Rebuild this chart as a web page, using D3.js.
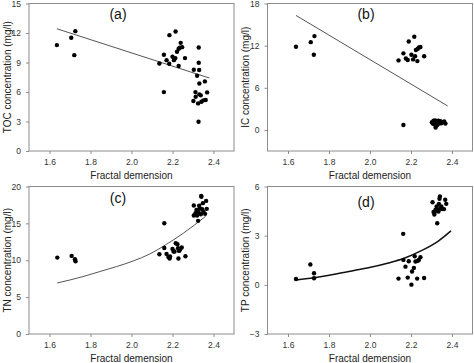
<!DOCTYPE html>
<html>
<head>
<meta charset="utf-8">
<script src="https://cdn.jsdelivr.net/npm/d3@7"></script>
<style>
  body { margin: 0; background: #fff; }
  svg { font-family: "Liberation Sans", Arial, sans-serif; }
</style>
</head>
<body>
<svg id="chart"></svg>
<script>
const width = 474;
const height = 363;

// fractal dimension / concentration pairs
const tocPoints = [
  [1.636, 10.77], [1.706, 11.51], [1.726, 12.19], [1.721, 9.75],
  [2.136, 8.9], [2.158, 9.79], [2.158, 5.99], [2.171, 9.24], [2.184, 8.87],
  [2.185, 11.78], [2.20, 9.58], [2.207, 9.24], [2.214, 9.45], [2.215, 12.16],
  [2.222, 10.09], [2.230, 8.64], [2.230, 10.4], [2.235, 10.5], [2.240, 11.0],
  [2.247, 10.56], [2.261, 9.45], [2.304, 8.26], [2.302, 5.08], [2.312, 5.99],
  [2.313, 5.52], [2.32, 7.65], [2.325, 4.84], [2.328, 10.53], [2.328, 8.97],
  [2.33, 8.23], [2.331, 6.87], [2.331, 5.76], [2.338, 5.66], [2.327, 2.98],
  [2.341, 5.01], [2.351, 5.15], [2.358, 7.08], [2.362, 5.18], [2.369, 5.96]
];
const tocFit = [[1.636, 12.43], [2.38, 7.42]];

const icPoints = [
  [1.639, 11.84], [1.711, 12.5], [1.729, 13.36], [1.726, 10.7],
  [2.139, 9.9], [2.163, 10.9], [2.163, 0.71], [2.175, 10.18], [2.184, 9.95],
  [2.189, 12.6], [2.202, 10.7], [2.21, 10.04], [2.216, 13.26], [2.22, 10.5],
  [2.224, 11.37], [2.231, 9.8], [2.233, 11.56], [2.239, 11.75], [2.246, 11.8],
  [2.264, 10.5],
  [2.302, 1.1], [2.306, 0.9], [2.31, 1.3], [2.313, 0.8], [2.316, 1.15],
  [2.318, 1.35], [2.32, 0.33], [2.322, 0.95], [2.325, 1.2], [2.328, 0.7],
  [2.331, 1.1], [2.334, 1.3], [2.337, 0.9], [2.34, 1.05], [2.343, 1.25],
  [2.348, 0.95], [2.355, 1.1], [2.362, 1.2], [2.368, 0.9]
];
const icFit = [[1.639, 16.3], [2.379, 3.41]];

const tnPoints = [
  [1.638, 10.36], [1.708, 10.59], [1.724, 10.14], [1.727, 9.86],
  [2.136, 10.81], [2.16, 11.67], [2.16, 15.02], [2.171, 10.86], [2.18, 10.45],
  [2.186, 10.23], [2.188, 10.5], [2.2, 11.54], [2.205, 11.18], [2.21, 11.18],
  [2.216, 12.31], [2.224, 12.17], [2.227, 11.63], [2.229, 10.23], [2.232, 11.27],
  [2.237, 11.45], [2.245, 11.72], [2.263, 10.54],
  [2.304, 17.42], [2.304, 16.06], [2.312, 16.38], [2.317, 16.83], [2.32, 16.06],
  [2.325, 15.34], [2.327, 16.52], [2.33, 17.38], [2.333, 17.01], [2.338, 16.24],
  [2.34, 18.73], [2.341, 18.6], [2.345, 16.92], [2.348, 17.74], [2.351, 16.56],
  [2.359, 16.29], [2.364, 18.05], [2.367, 16.97], [2.318, 16.2]
];
const tnFit = [
  [1.638, 6.92], [1.763, 7.78], [1.845, 8.46], [1.927, 9.14], [2.008, 9.9],
  [2.09, 10.86], [2.171, 12.17], [2.253, 13.67], [2.362, 15.97]
];

const tpPoints = [
  [1.639, 0.36], [1.709, 1.24], [1.727, 0.71], [1.727, 0.40],
  [2.139, 0.38], [2.162, 3.11], [2.163, 1.52], [2.173, 1.11], [2.184, 0.44],
  [2.189, 1.44], [2.202, 0.01], [2.205, 0.81], [2.214, 1.03], [2.218, 1.74],
  [2.222, 1.42], [2.23, 0.38], [2.232, 1.46], [2.238, 1.52], [2.246, 1.68],
  [2.264, 0.42],
  [2.305, 5.04], [2.31, 4.45], [2.314, 4.29], [2.32, 4.58], [2.325, 4.78],
  [2.328, 3.76], [2.331, 4.58], [2.336, 4.94], [2.339, 5.25], [2.341, 5.39],
  [2.344, 4.66], [2.348, 4.78], [2.352, 4.62], [2.361, 4.62], [2.367, 5.19],
  [2.372, 4.94], [2.317, 4.47], [2.334, 4.47]
];
const tpFit = [
  [1.639, 0.3], [1.758, 0.5], [1.84, 0.67], [1.922, 0.87], [2.003, 1.07],
  [2.085, 1.32], [2.167, 1.62], [2.248, 2.07], [2.33, 2.64], [2.395, 3.29]
];

const xTicks = [1.6, 1.8, 2.0, 2.2, 2.4];

const panels = [
  {label: "(a)", title: "TOC concentration (mg/l)", points: tocPoints, fit: tocFit,
   yDomain: [0, 15], yTicks: [0, 3, 6, 9, 12, 15], left: 29, top: 3.5, lx: 118, ly: 19, fitColor: "#555", fitWidth: 1},
  {label: "(b)", title: "IC concentration (mg/l)", points: icPoints, fit: icFit,
   yDomain: [-3, 18], yTicks: [0, 6, 12, 18], left: 267.5, top: 3.5, lx: 366, ly: 19, fitColor: "#555", fitWidth: 1},
  {label: "(c)", title: "TN concentration (mg/l)", points: tnPoints, fit: tnFit,
   yDomain: [0, 20], yTicks: [0, 5, 10, 15, 20], left: 29, top: 186.5, lx: 118, ly: 203, fitColor: "#555", fitWidth: 1},
  {label: "(d)", title: "TP concentration (mg/l)", points: tpPoints, fit: tpFit,
   yDomain: [-3, 6], yTicks: [-3, 0, 3, 6], left: 267.5, top: 186.5, lx: 366, ly: 207, fitColor: "#111", fitWidth: 1.5}
];

const pw = 205;
const ph = 147.5;

const svg = d3.select("#chart")
  .attr("width", width)
  .attr("height", height)
  .attr("viewBox", [0, 0, width, height]);

panels.forEach(p => {
  const x = d3.scaleLinear().domain([1.5, 2.5]).range([0, pw]);
  const y = d3.scaleLinear().domain(p.yDomain).range([ph, 0]);

  const g = svg.append("g").attr("transform", `translate(${p.left},${p.top})`);

  // frame
  g.append("rect")
    .attr("width", pw)
    .attr("height", ph)
    .attr("fill", "none")
    .attr("stroke", "#8c8c8c")
    .attr("stroke-width", 1);

  const xAxis = g.append("g")
    .attr("transform", `translate(0,${ph})`)
    .call(d3.axisBottom(x).tickValues(xTicks).tickFormat(d3.format(".1f")).tickSize(3).tickPadding(5));
  const yAxis = g.append("g")
    .call(d3.axisLeft(y).tickValues(p.yTicks).tickSize(3).tickPadding(5));

  [xAxis, yAxis].forEach(a => {
    a.select(".domain").remove();
    a.selectAll("line").attr("stroke", "#8c8c8c");
    a.selectAll("text").attr("fill", "#333").attr("font-size", 8.5)
      .attr("font-family", "Liberation Sans, Arial, sans-serif");
  });

  // fitted curve
  g.append("path")
    .datum(p.fit)
    .attr("fill", "none")
    .attr("stroke", p.fitColor)
    .attr("stroke-width", p.fitWidth)
    .attr("d", d3.line().x(d => x(d[0])).y(d => y(d[1])).curve(d3.curveMonotoneX));

  g.selectAll("circle")
    .data(p.points)
    .join("circle")
    .attr("cx", d => x(d[0]))
    .attr("cy", d => y(d[1]))
    .attr("r", 2.2)
    .attr("fill", "#000");

  // axis titles
  g.append("text")
    .attr("x", pw / 2)
    .attr("y", ph + 28)
    .attr("text-anchor", "middle")
    .attr("font-size", 10)
    .attr("fill", "#222")
    .text("Fractal demension");

  g.append("text")
    .attr("transform", `translate(${-18.5},${ph / 2}) rotate(-90)`)
    .attr("text-anchor", "middle")
    .attr("font-size", 10)
    .attr("fill", "#222")
    .text(p.title);

  svg.append("text")
    .attr("x", p.lx)
    .attr("y", p.ly)
    .attr("text-anchor", "middle")
    .attr("font-size", 14)
    .attr("fill", "#111")
    .text(p.label);
});
</script>
</body>
</html>
